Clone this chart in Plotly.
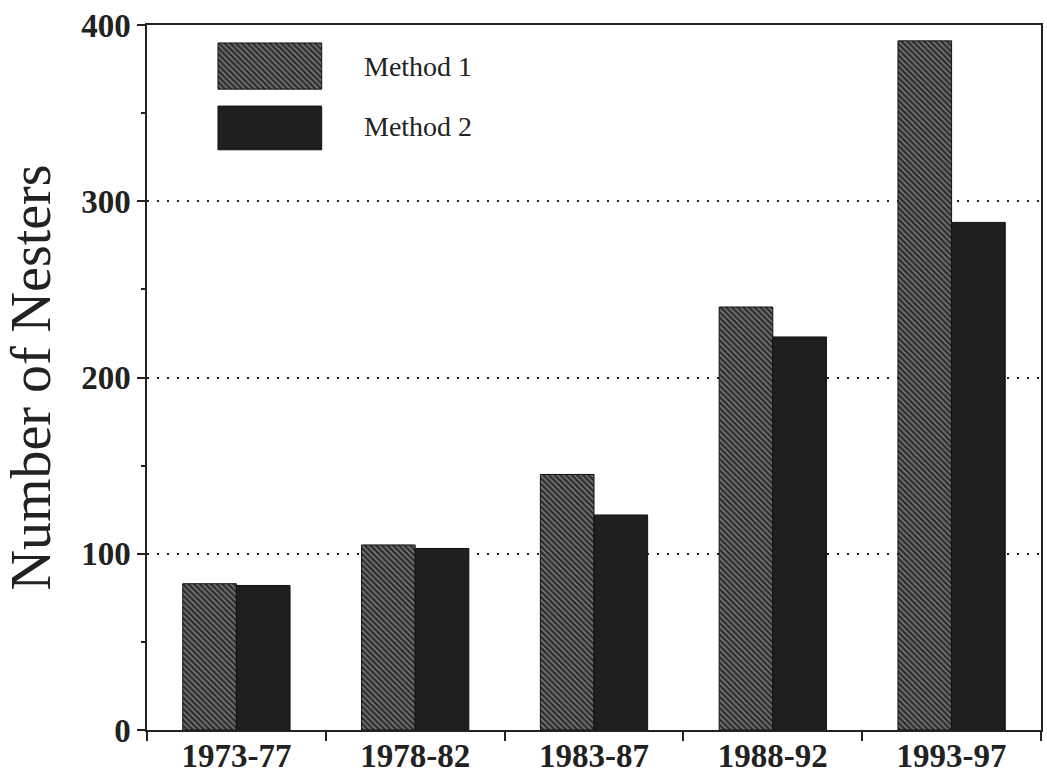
import plotly.graph_objects as go

periods = ["1973-77", "1978-82", "1983-87", "1988-92", "1993-97"]
method1 = [83, 105, 145, 240, 391]
method2 = [82, 103, 122, 223, 288]
series_names = ["Method 1", "Method 2"]
y_ticks = [0, 100, 200, 300, 400]

SERIF = "Liberation Serif, Times New Roman, serif"
pat1 = dict(shape="\\", bgcolor="#2e2e2e", fgcolor="#d8d8d8", size=4, solidity=0.35)
dark2 = "#1f1f1f"

fig = go.Figure()
fig.add_trace(go.Bar(x=periods, y=method1, name=series_names[0],
                     marker=dict(color="#2e2e2e", pattern=pat1, line=dict(color="#111", width=1)),
                     showlegend=False, hoverinfo="y"))
fig.add_trace(go.Bar(x=periods, y=method2, name=series_names[1],
                     marker=dict(color=dark2, line=dict(color="#111", width=1)),
                     showlegend=False, hoverinfo="y"))

# legend swatches on an overlay axis (paper-fraction coordinates)
leg_x = [0.0794]
leg_w = 0.116
fig.add_trace(go.Bar(x=leg_x, y=[0.0655], base=[0.909], width=[leg_w], offset=0, xaxis="x2", yaxis="y2",
                     marker=dict(color="#2e2e2e", pattern=pat1, line=dict(color="#111", width=1)),
                     showlegend=False, hoverinfo="skip"))
fig.add_trace(go.Bar(x=leg_x, y=[0.062], base=[0.823], width=[leg_w], offset=0, xaxis="x2", yaxis="y2",
                     marker=dict(color=dark2, line=dict(color="#111", width=1)),
                     showlegend=False, hoverinfo="skip"))

fig.update_layout(
    width=1047, height=782,
    margin=dict(l=147, r=6, t=25, b=52),
    paper_bgcolor="white", plot_bgcolor="white",
    barmode="group", bargap=0.40, bargroupgap=0,
    font=dict(family=SERIF, color="#222"),
    xaxis=dict(
        type="category", tickson="boundaries", ticks="outside", ticklen=9, tickwidth=1.5,
        tickcolor="#222", showline=True, linecolor="#222", linewidth=1.5, mirror=True,
        tickfont=dict(family=SERIF, size=33, color="#222", weight="bold"),
        ticklabelstandoff=-4,
        showgrid=False, automargin=False,
    ),
    yaxis=dict(
        range=[0, 400], tickvals=y_ticks, ticks="outside", ticklen=8, tickwidth=1.5,
        tickcolor="#222", showline=True, linecolor="#222", linewidth=1.5, mirror=True,
        tickfont=dict(family=SERIF, size=33, color="#222", weight="bold"),
        showgrid=True, gridcolor="#222", griddash="2px,8px", gridwidth=1.6,
        zeroline=False, automargin=False,
        minor=dict(tickvals=[50, 150, 250, 350], ticks="outside", ticklen=4, tickcolor="#222", showgrid=False),
        title=dict(text="Number of Nesters", font=dict(family=SERIF, size=56, color="#222"), standoff=20),
    ),
    xaxis2=dict(overlaying="x", range=[0, 1], visible=False, domain=[0, 1]),
    yaxis2=dict(overlaying="y", range=[0, 1], visible=False),
)

fig.add_annotation(text=series_names[0], xref="paper", yref="paper", x=0.2405, y=0.9415,
                   xanchor="left", yanchor="middle", showarrow=False,
                   font=dict(family=SERIF, size=28, color="#222"))
fig.add_annotation(text=series_names[1], xref="paper", yref="paper", x=0.2405, y=0.856,
                   xanchor="left", yanchor="middle", showarrow=False,
                   font=dict(family=SERIF, size=28, color="#222"))

fig.write_html("out.html", config={"displayModeBar": False},
               post_script="document.body.style.margin='0';document.body.style.overflow='hidden';")
